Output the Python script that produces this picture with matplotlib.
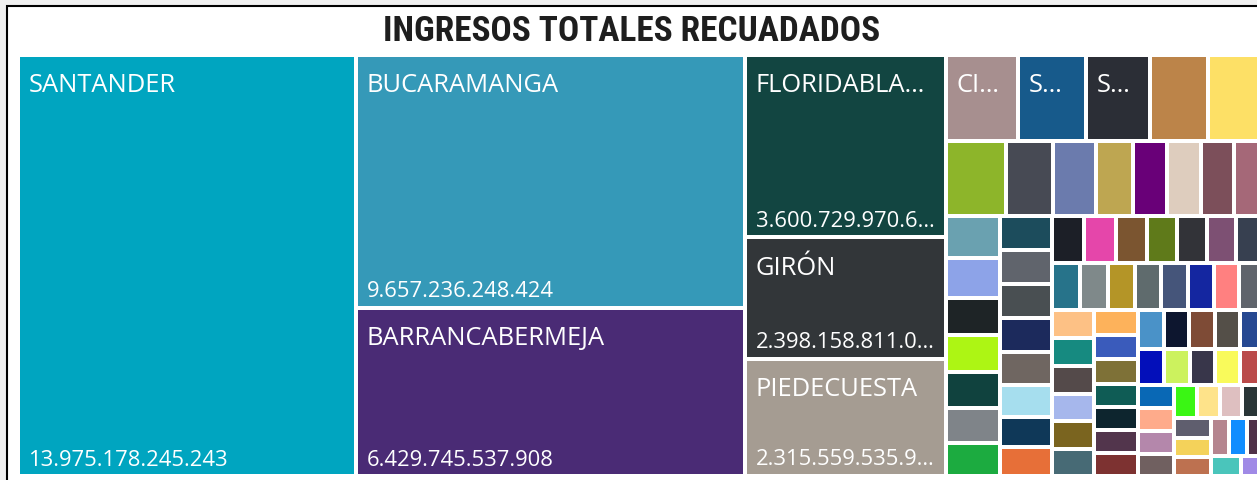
#!/usr/bin/env python3

import matplotlib
matplotlib.use("Agg")
import matplotlib.pyplot as plt
from matplotlib.patches import Rectangle

# Ingresos totales recaudados por municipio (pesos), de mayor a menor
municipios = [
    "SANTANDER", "BUCARAMANGA", "BARRANCABERMEJA", "FLORIDABLANCA", "GIRÓN", "PIEDECUESTA",
    "CIMITARRA", "SAN GIL", "SABANA DE TORRES", "PUERTO WILCHES", "LEBRIJA",
    "SAN VICENTE DE CHUCURÍ", "SOCORRO", "BARBOSA", "RIONEGRO", "MÁLAGA", "VÉLEZ",
    "PUERTO PARRA", "LANDÁZURI",
    "EL CARMEN DE CHUCURÍ", "ZAPATOCA", "PUENTE NACIONAL", "LOS SANTOS", "SIMACOTA",
    "BETULIA", "OIBA",
    "CHARALÁ", "CURITÍ", "MOGOTES", "EL PLAYÓN", "BOLÍVAR", "SUAITA", "LA BELLEZA",
    "SANTA HELENA DEL OPÓN",
    "BARICHARA", "VILLANUEVA", "SAN ANDRÉS", "CONCEPCIÓN", "ARATOCA", "TONA", "SURATÁ",
    "FLORIÁN", "ENCISO", "GUADALUPE", "SUCRE", "CAPITANEJO", "PINCHOTE", "CONTRATACIÓN",
    "SAN BENITO",
    "MATANZA", "GÜEPSA", "ALBANIA", "EL PEÑÓN", "CALIFORNIA", "CERRITO",
    "ONZAGA", "JESÚS MARÍA", "SANTA BÁRBARA", "AGUADA", "VETAS", "GUACA", "SAN JOAQUÍN",
    "CHIPATÁ", "OCAMONTE", "CHARTA", "GALÁN", "PALMAS DEL SOCORRO",
    "CABRERA", "HATO", "SAN MIGUEL", "MOLAGAVITA", "MACARAVITA",
    "ENCINO", "CARCASÍ", "CHIMA", "GUAVATÁ",
    "SAN JOSÉ DE MIRANDA", "VALLE DE SAN JOSÉ", "LA PAZ", "COROMORO",
    "GÁMBITA", "GUAPOTÁ", "PALMAR",
    "EL GUACAMAYO", "PÁRAMO", "CEPITÁ",
    "CONFINES", "JORDÁN",
]

ingresos = [
    13_975_178_245_243, 9_657_236_248_424, 6_429_745_537_908,
    3_600_729_970_648, 2_398_158_811_037, 2_315_559_535_921,
    608_112_734_562, 574_296_118_430, 540_487_905_217, 494_031_662_845, 468_702_391_576,
    441_904_257_318, 346_215_880_093, 316_684_127_740, 272_519_036_482,
    250_437_915_260, 250_362_048_771, 243_018_562_904, 223_041_795_136,
    222_015_386_447, 215_694_102_833, 200_215_748_519, 196_408_331_702,
    195_317_864_025, 183_592_470_618, 178_236_915_340,
    173_641_208_957, 173_588_419_263, 173_552_086_114, 172_097_635_480,
    170_018_442_391, 161_927_503_876, 153_204_781_659, 149_512_366_028,
    149_018_257_634, 144_627_910_382, 144_581_036_217, 141_294_688_503,
    138_502_117_946, 137_611_430_825, 128_309_574_162,
    127_492_036_851, 126_518_274_409, 123_506_819_372, 121_487_605_238,
    120_513_942_667, 118_026_351_794, 116_004_728_513, 115_012_486_930,
    113_508_274_106, 113_012_665_438, 112_497_301_825, 112_003_548_917,
    111_492_870_264, 110_006_135_582,
    107_513_298_640, 107_006_471_325, 106_491_835_207, 101_517_024_963,
    100_482_613_579, 100_009_356_148, 99_508_247_316,
    98_504_613_827, 97_498_120_564, 96_012_735_481, 95_003_846_219, 93_017_558_402,
    92_508_364_175, 91_496_027_833, 88_517_430_692, 86_504_918_347, 85_002_671_158,
    82_013_486_925, 81_007_352_614, 79_996_214_078, 77_004_865_239,
    75_012_648_306, 74_503_927_181, 73_006_185_542, 71_497_302_764,
    71_003_814_256, 70_008_427_693, 68_996_051_327,
    68_502_736_418, 67_004_182_590, 64_003_519_847,
    58_907_263_114, 46_214_870_532,
]

colores = [
    "#00A5C0", "#3599B8", "#4A2B75", "#124541", "#323639", "#A59C92",
    "#A78F8F", "#175A8B", "#2B2E36", "#BC8449", "#FDE066",
    "#8DB52A", "#474A54", "#6B7BAD", "#BEA651", "#690078", "#DECDBE", "#7C4F5A", "#A56878",
    "#6AA1B0", "#8DA3E8", "#1E2426", "#ADF514", "#10423E", "#7F8489", "#1CAB40",
    "#1C4C5C", "#60646C", "#494F52", "#1C2A5C", "#6F6661", "#A6DEEE", "#0F3858", "#E76F38",
    "#1C1F27", "#E546AA", "#7B5530", "#5F7A1A", "#323338", "#7D5073", "#374050",
    "#27738A", "#7F898A", "#B49527", "#5F6B6D", "#45557A", "#1426A0", "#FF8080", "#5F646C",
    "#FDC185", "#168A80", "#544A4A", "#A6B7EC", "#7A641F", "#476A75",
    "#FDB25B", "#3A5BBB", "#7E7137", "#0F5C55", "#0D252E", "#52354C", "#7D3231",
    "#4A92C8", "#0D162F", "#7E4B36", "#544F48", "#264891",
    "#030FBA", "#CCF25E", "#38364A", "#F9FA5B", "#BA4A4A",
    "#0968B5", "#FEAB8B", "#B487AB", "#706060",
    "#3AF614", "#FEE38A", "#DEBFC0", "#293537",
    "#5F5E6E", "#F4D25A", "#BD7150",
    "#B5858F", "#118DFF", "#4F3048",
    "#4AC5BB", "#A08AE6",
]

titulo = "INGRESOS TOTALES RECUADADOS"

PHI = (1 + 5 ** 0.5) / 2
FUENTE = ["Open Sans", "DejaVu Sans"]
FUENTE_TITULO = ["Noto Sans Condensed", "DejaVu Sans Condensed", "Liberation Sans Narrow",
                 "Roboto Condensed", "Roboto"]


def squarify(valores, x0, y0, x1, y1, ratio=PHI):
    # mismo criterio que d3.treemapSquarify (razon aurea)
    rects = []
    total = float(sum(valores))
    n = len(valores)
    i0 = 0
    while i0 < n:
        dx, dy = x1 - x0, y1 - y0
        suma = float(valores[i0])
        vmin = vmax = suma
        alpha = max(dy / dx, dx / dy) / (total * ratio)
        beta = suma * suma * alpha
        mejor = max(vmax / beta, beta / vmin)
        i1 = i0 + 1
        while i1 < n:
            v = valores[i1]
            s2 = suma + v
            beta = s2 * s2 * alpha
            nuevo = max(max(vmax, v) / beta, beta / min(vmin, v))
            if nuevo > mejor:
                break
            suma, mejor = s2, nuevo
            vmin, vmax = min(vmin, v), max(vmax, v)
            i1 += 1
        fila = valores[i0:i1]
        if dx < dy:
            # fila horizontal arriba
            yf = y0 + dy * suma / total if total else y1
            x = x0
            for v in fila:
                w = dx * v / suma
                rects.append((x, y0, x + w, yf))
                x += w
            y0 = yf
        else:
            # columna a la izquierda
            xf = x0 + dx * suma / total if total else x1
            y = y0
            for v in fila:
                h = dy * v / suma
                rects.append((x0, y, xf, y + h))
                y += h
            x0 = xf
        total -= suma
        i0 = i1
    return rects


def miles(v):
    return f"{v:,}".replace(",", ".")


def ajustar(t, texto, ancho_max, renderer):
    t.set_text(texto)
    if t.get_window_extent(renderer).width <= ancho_max:
        return
    for k in range(len(texto) - 1, 0, -1):
        t.set_text(texto[:k].rstrip() + "…")
        if t.get_window_extent(renderer).width <= ancho_max:
            return
    t.set_text("")


def main():
    fig = plt.figure(figsize=(12.57, 4.8), dpi=100, facecolor="#F0F0F0")
    ax = fig.add_axes([0, 0, 1, 1])
    ax.set_xlim(0, 1257)
    ax.set_ylim(480, 0)
    ax.axis("off")

    # marco del visual
    ax.add_patch(Rectangle((7, 6), 1400, 600, facecolor="white",
                           edgecolor="black", lw=1.5))

    renderer = fig.canvas.get_renderer()

    t = ax.text(631.5, 40.7, titulo, ha="center", va="baseline", fontsize=30,
                fontweight="bold", fontstretch="condensed", family=FUENTE_TITULO,
                color="#1E1E1E")
    ancho = t.get_window_extent(renderer).width
    t.set_fontsize(30 * 497 / ancho)

    rects = squarify(ingresos, 17.5, 55, 1264, 476)
    g = 2
    for nombre, valor, color, (a, b, c, d) in zip(municipios, ingresos, colores, rects):
        x, y = a + g, b + g
        w, h = c - a - 2 * g, d - b - 2 * g
        ax.add_patch(Rectangle((x, y), w, h, facecolor=color, edgecolor="none"))
        if w >= 58 and h >= 60:
            t = ax.text(x + 9, y + 35.5, "", color="white", fontsize=18.4,
                        family=FUENTE, va="baseline")
            ajustar(t, nombre, w - 18, renderer)
            if h >= 90:
                t = ax.text(x + 9, y + h - 8.5, "", color="white", fontsize=15.8,
                            family=FUENTE, va="baseline")
                ajustar(t, miles(valor), w - 18, renderer)

    fig.savefig("out.png", dpi=100, facecolor=fig.get_facecolor())


if __name__ == "__main__":
    main()
